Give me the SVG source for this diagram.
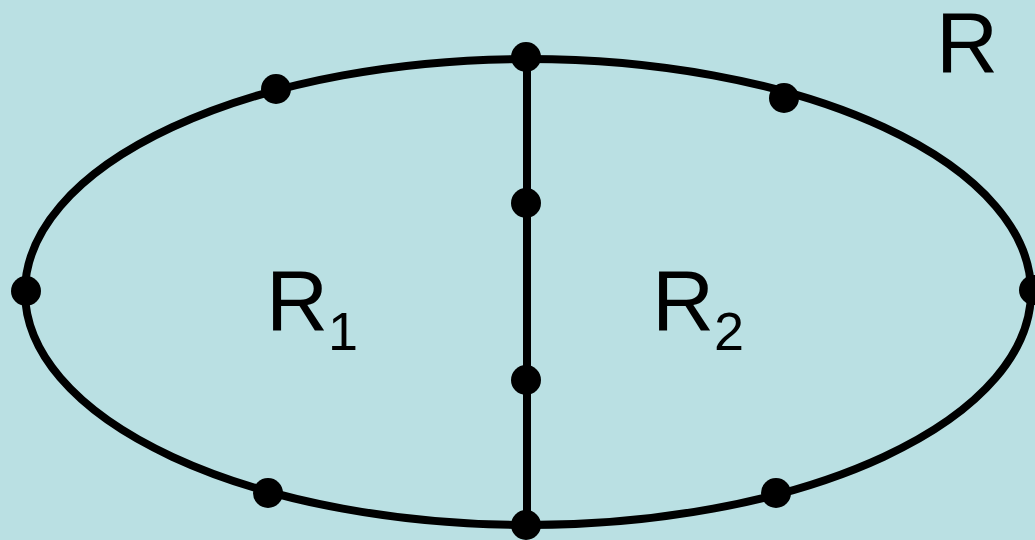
<svg xmlns="http://www.w3.org/2000/svg" width="1035" height="540" viewBox="0 0 1035 540">
<style>
.edge{fill:none;stroke:#000;stroke-width:8}
.dot{fill:#000}
.lbl{font-family:"Liberation Sans",Arial,sans-serif;fill:#000}
</style>
<rect width="1035" height="540" fill="#BAE0E3"/>
<g id="connectors">
<ellipse class="edge" cx="528" cy="292" rx="503" ry="233"/>
<line class="edge" x1="527" y1="58" x2="527" y2="525"/>
</g>
<g id="n-top"><circle class="dot" cx="526" cy="57" r="15"/></g>
<g id="n-bottom"><circle class="dot" cx="526" cy="525" r="15"/></g>
<g id="n-left"><circle class="dot" cx="26" cy="291" r="15"/></g>
<g id="n-right"><circle class="dot" cx="1034" cy="290" r="15"/></g>
<g id="n-ul"><circle class="dot" cx="276" cy="89" r="15"/></g>
<g id="n-ur"><circle class="dot" cx="784" cy="98" r="15"/></g>
<g id="n-ll"><circle class="dot" cx="268" cy="493" r="15"/></g>
<g id="n-lr"><circle class="dot" cx="776" cy="493" r="15"/></g>
<g id="n-m1"><circle class="dot" cx="526" cy="203" r="15"/></g>
<g id="n-m2"><circle class="dot" cx="526" cy="380" r="15"/></g>
<g id="labels">
<text class="lbl" x="266" y="330" font-size="86">R<tspan font-size="54" dy="20">1</tspan></text>
<text class="lbl" x="652" y="330" font-size="86">R<tspan font-size="54" dy="20">2</tspan></text>
<text class="lbl" x="936" y="72" font-size="86">R</text>
</g>
</svg>
